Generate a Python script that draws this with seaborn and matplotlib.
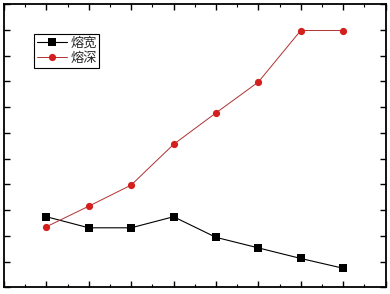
import matplotlib
matplotlib.use("Agg")
import matplotlib.pyplot as plt
from matplotlib.ticker import MultipleLocator, NullFormatter
import seaborn as sns
import pandas as pd

# data (arbitrary units, axis labels not shown)
positions = [1, 2, 3, 4, 5, 6, 7, 8]
width_vals = [2.74, 2.31, 2.31, 2.74, 1.94, 1.53, 1.12, 0.74]   # 熔宽
depth_vals = [2.35, 3.15, 3.97, 5.55, 6.77, 7.97, 9.97, 9.97]   # 熔深
series_names = ["熔宽", "熔深"]

sns.set_style("ticks")
plt.rcParams["font.family"] = ["Noto Sans CJK SC", "DejaVu Sans"]
plt.rcParams["xtick.direction"] = "in"
plt.rcParams["ytick.direction"] = "in"

df_w = pd.DataFrame({"x": positions, "y": width_vals})
df_d = pd.DataFrame({"x": positions, "y": depth_vals})

fig = plt.figure(figsize=(3.9, 2.94), dpi=100)
ax = fig.add_axes([4 / 390, 1 - 287.3 / 294, (385.5 - 4) / 390, (287.3 - 4) / 294])

sns.lineplot(data=df_w, x="x", y="y", ax=ax, color="black", lw=0.8,
             marker="s", markersize=5.5, markeredgewidth=0, label=series_names[0])
sns.lineplot(data=df_d, x="x", y="y", ax=ax, color="#b03030", lw=0.7,
             marker="o", markersize=5.2, markerfacecolor="#d41f1f",
             markeredgecolor="#d41f1f", markeredgewidth=0, label=series_names[1])

ax.set_xlim(0, 9)
ax.set_ylim(0, 11)
ax.set_xlabel("")
ax.set_ylabel("")
ax.xaxis.set_major_locator(MultipleLocator(1))
ax.xaxis.set_minor_locator(MultipleLocator(0.5))
ax.yaxis.set_major_locator(MultipleLocator(1))
ax.xaxis.set_major_formatter(NullFormatter())
ax.yaxis.set_major_formatter(NullFormatter())
ax.tick_params(which="both", top=True, right=True, labelbottom=False, labelleft=False,
               color="black")
ax.tick_params(which="major", length=4, width=1.0)
ax.tick_params(which="minor", length=2.5, width=0.8)
for s in ax.spines.values():
    s.set_visible(True)
    s.set_color("black")
    s.set_linewidth(1.3)

leg = ax.legend(loc="upper left", bbox_to_anchor=(34.3 / 390, 1 - 34.3 / 294),
                bbox_transform=fig.transFigure, borderaxespad=0, fontsize=9.5,
                frameon=True, fancybox=False, shadow=False, handlelength=2.25,
                handletextpad=0.28, borderpad=0.2, labelspacing=0.15)
leg.get_frame().set_edgecolor("black")
leg.get_frame().set_linewidth(0.8)
leg.get_frame().set_alpha(1)

fig.savefig("out.png", dpi=100)
